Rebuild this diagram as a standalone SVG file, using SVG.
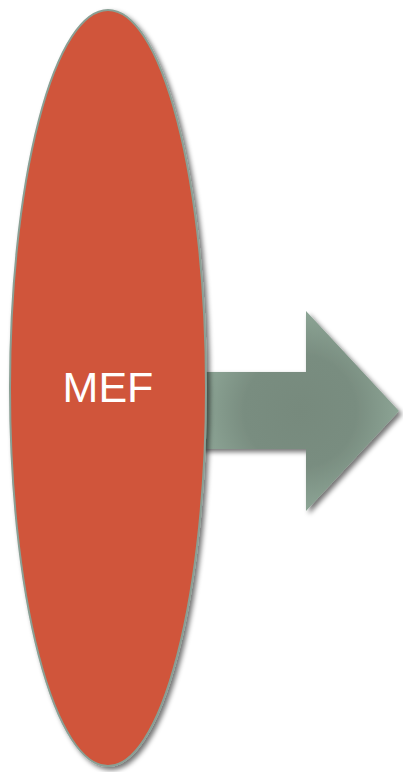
<svg xmlns="http://www.w3.org/2000/svg" width="403" height="772" viewBox="0 0 403 772">
<defs>
<filter id="sh" x="-20%" y="-10%" width="140%" height="120%">
<feGaussianBlur in="SourceAlpha" stdDeviation="2.5"/>
<feOffset dx="3" dy="3" result="b"/>
<feComponentTransfer><feFuncA type="linear" slope="0.55"/></feComponentTransfer>
<feMerge><feMergeNode/><feMergeNode in="SourceGraphic"/></feMerge>
</filter>
<radialGradient id="ag" cx="300" cy="411" r="112" gradientUnits="userSpaceOnUse">
<stop offset="0" stop-color="#778a7d"/>
<stop offset="0.5" stop-color="#798d80"/>
<stop offset="1" stop-color="#92ab9b"/>
</radialGradient>
<style>
.lbl{font-family:"Liberation Sans",Arial,sans-serif;font-size:43px;fill:#ffffff;text-anchor:middle}
</style>
</defs>
<g id="connectors">
<path d="M200 372 H306 V311 L399 411 L306 511 V449 H200 Z" fill="url(#ag)" filter="url(#sh)"/>
</g>
<g id="mef">
<ellipse cx="108" cy="388" rx="98" ry="378" fill="#d0553a" stroke="#8a9f94" stroke-width="2" filter="url(#sh)"/>
<text class="lbl" x="108" y="402">MEF</text>
</g>
</svg>
